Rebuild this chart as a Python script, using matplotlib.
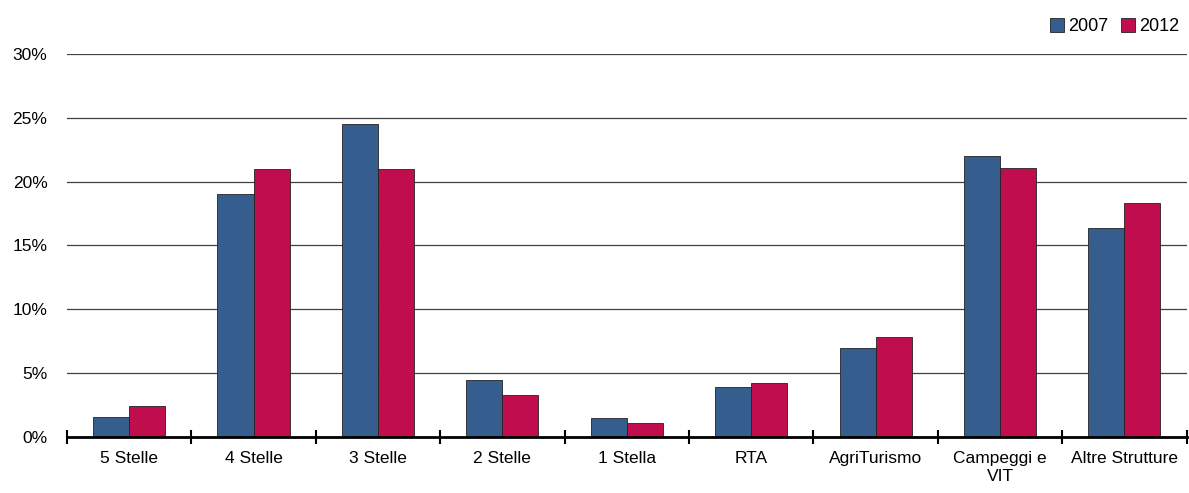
import matplotlib.pyplot as plt
import numpy as np

plt.rcParams['font.family'] = ['Liberation Sans', 'DejaVu Sans']

categories = ['5 Stelle', '4 Stelle', '3 Stelle', '2 Stelle', '1 Stella', 'RTA',
              'AgriTurismo', 'Campeggi e\nVIT', 'Altre Strutture']
v2007 = [1.6, 19.0, 24.5, 4.5, 1.5, 3.9, 7.0, 22.0, 16.4]
v2012 = [2.4, 21.0, 21.0, 3.3, 1.1, 4.2, 7.8, 21.1, 18.3]

fig = plt.figure(figsize=(11.89, 4.93), dpi=100)
ax = fig.add_axes([0.0563, 0.1136, 0.9417, 0.7769])

x = np.arange(len(categories))
w = 0.29
ax.bar(x - w/2, v2007, w, color='#355E8E', edgecolor='#222222', linewidth=0.6, label='2007', zorder=3)
ax.bar(x + w/2, v2012, w, color='#C00D4E', edgecolor='#222222', linewidth=0.6, label='2012', zorder=3)

ax.set_xlim(-0.5, len(categories) - 0.5)
ax.set_ylim(0, 30)
ax.set_yticks(np.arange(0, 31, 5))
ax.set_yticklabels([f'{v}%' for v in range(0, 31, 5)], fontsize=12.5)
ax.yaxis.grid(True, color='#404040', linewidth=0.9, zorder=0)
ax.tick_params(axis='y', length=0, pad=14)

ax.set_xticks(x)
ax.set_xticklabels(categories, fontsize=12.5, linespacing=1.25)
ax.set_xticks(np.arange(-0.5, len(categories)), minor=True)
ax.tick_params(axis='x', which='major', length=0, pad=10)
ax.tick_params(axis='x', which='minor', length=10, width=1.5, direction='inout', color='black')

for s in ['top', 'right', 'left']:
    ax.spines[s].set_visible(False)
ax.spines['bottom'].set_linewidth(2)
ax.spines['bottom'].set_zorder(4)

ax.legend(loc='lower right', bbox_to_anchor=(1.0, 1.03), ncol=2, frameon=False, fontsize=13,
          handlelength=0.75, handleheight=0.75, handletextpad=0.25, columnspacing=0.7, borderaxespad=0)

fig.savefig('out.png', dpi=100)
